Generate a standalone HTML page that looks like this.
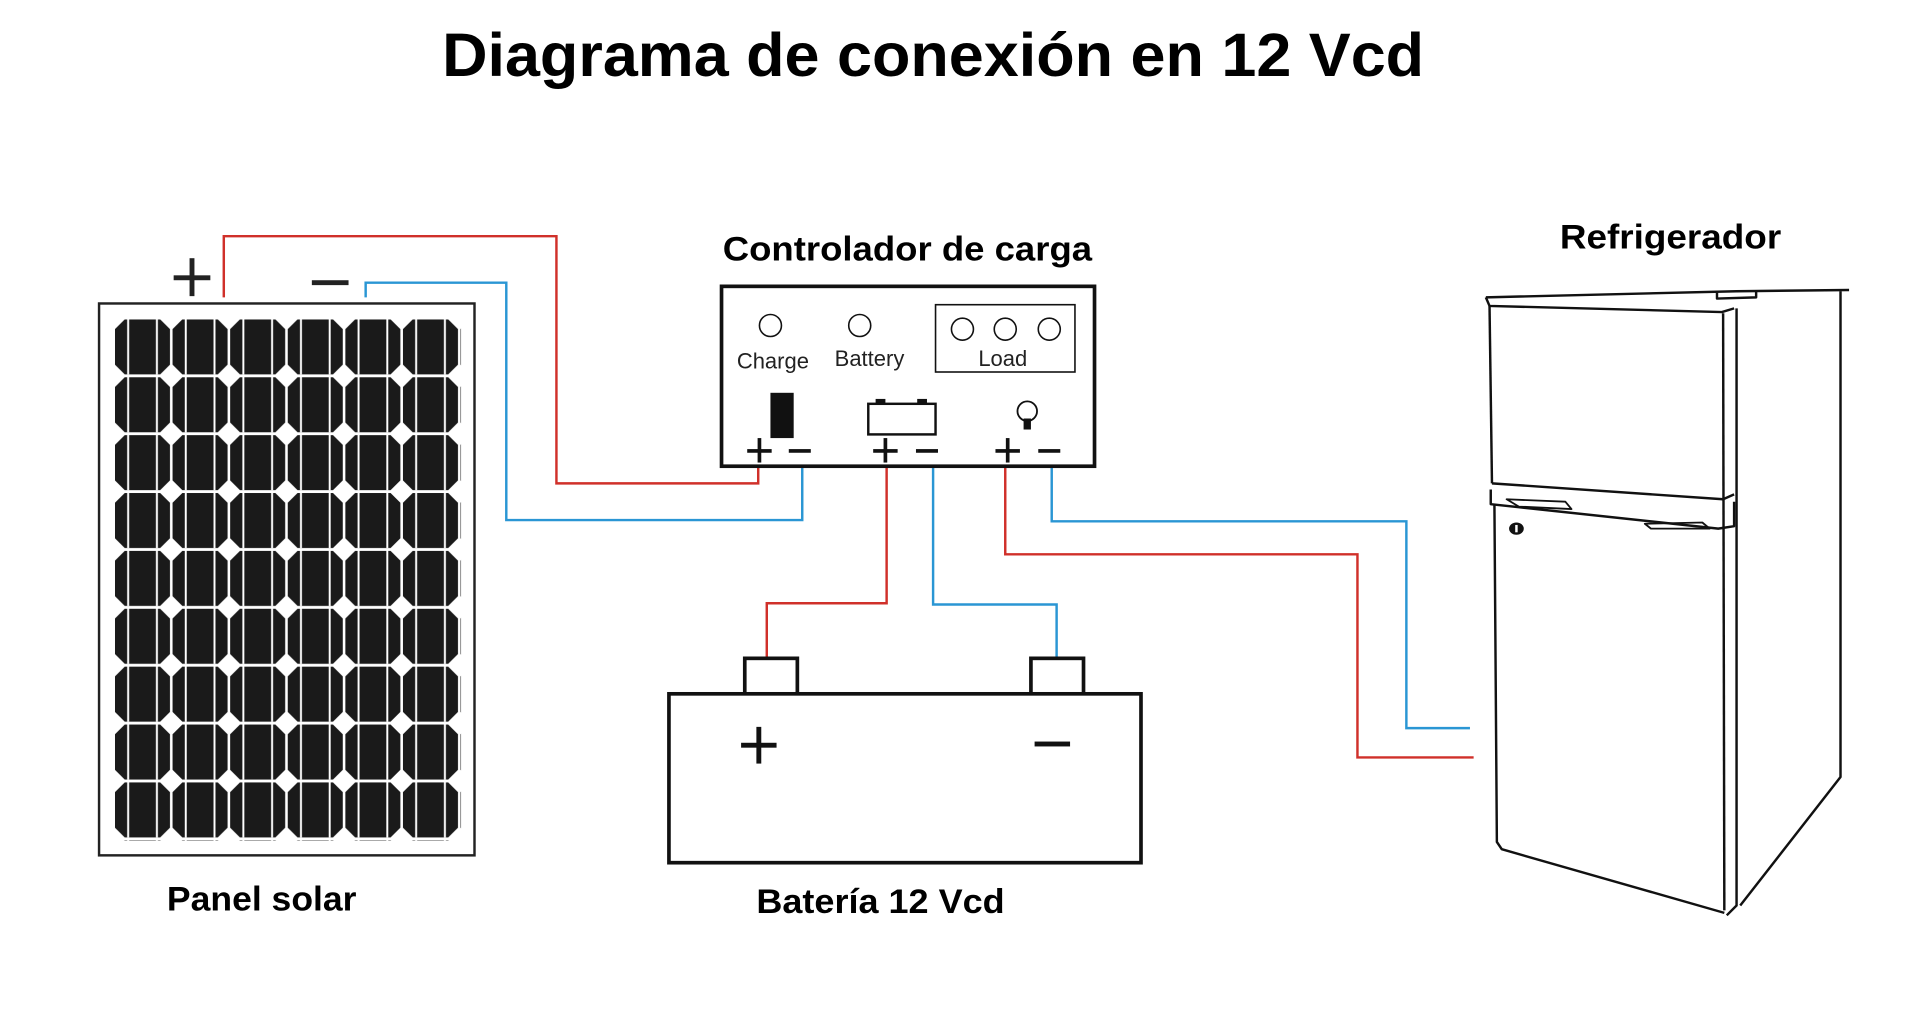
<!DOCTYPE html>
<html><head><meta charset="utf-8"><style>
html,body{margin:0;padding:0;background:#fff;}
svg{display:block;}
text{font-family:"Liberation Sans",sans-serif;}
</style></head><body>
<svg width="1920" height="1023" viewBox="0 0 1570 836" preserveAspectRatio="none" xmlns="http://www.w3.org/2000/svg">
<defs>
<pattern id="cell" x="94" y="261" width="47.1" height="47.3" patternUnits="userSpaceOnUse">
<polygon points="8,0 37,0 45,8 45,37 37,45 8,45 0,37 0,8" fill="#1a1a1a"/>
<rect x="10" y="0" width="1.6" height="45" fill="#fff"/>
<rect x="33.5" y="0" width="1.6" height="45" fill="#fff"/>
</pattern>
</defs>
<rect width="1570" height="836" fill="#fff"/>
<text x="763" y="62" font-size="50" font-weight="bold" text-anchor="middle" textLength="803" lengthAdjust="spacingAndGlyphs">Diagrama de conexión en 12 Vcd</text>

<rect x="81" y="248" width="307" height="451" fill="#fff" stroke="#222" stroke-width="2"/>
<rect x="94" y="261" width="283" height="426" fill="url(#cell)"/>
<rect x="142" y="225" width="30" height="4" fill="#222"/><rect x="155" y="211" width="4" height="31" fill="#222"/>
<rect x="255" y="229" width="30" height="4" fill="#222"/>

<g fill="none" stroke-width="2">
<polyline stroke="#d0302a" points="183,243 183,193 455,193 455,395 620,395 620,382"/>
<polyline stroke="#2a96d4" points="299,243 299,231 414,231 414,425 656,425 656,382"/>
<polyline stroke="#d0302a" points="725,382 725,493 627,493 627,538"/>
<polyline stroke="#2a96d4" points="763,382 763,494 864,494 864,538"/>
<polyline stroke="#d0302a" points="822,382 822,453 1110,453 1110,619 1205,619"/>
<polyline stroke="#2a96d4" points="860,382 860,426 1150,426 1150,595 1202,595"/>
</g>

<text x="742" y="213" font-size="28" font-weight="bold" text-anchor="middle" textLength="302" lengthAdjust="spacingAndGlyphs">Controlador de carga</text>
<rect x="590" y="234" width="305" height="147" fill="#fff" stroke="#111" stroke-width="3"/>
<g fill="none" stroke="#111" stroke-width="1.3">
<circle cx="630" cy="266" r="9"/><circle cx="703" cy="266" r="9"/>
<rect x="765" y="249" width="114" height="55"/>
<circle cx="787" cy="269" r="9"/><circle cx="822" cy="269" r="9"/><circle cx="858" cy="269" r="9"/>
</g>
<text x="632" y="301" font-size="18" text-anchor="middle" fill="#222">Charge</text>
<text x="711" y="299" font-size="18" text-anchor="middle" fill="#222">Battery</text>
<text x="820" y="299" font-size="18" text-anchor="middle" fill="#222">Load</text>
<rect x="630" y="321" width="19" height="37" fill="#111"/>
<rect x="710" y="330" width="55" height="25" fill="none" stroke="#111" stroke-width="2"/>
<rect x="716" y="326" width="8" height="4" fill="#111"/><rect x="750" y="326" width="8" height="4" fill="#111"/>
<circle cx="840" cy="336" r="8" fill="none" stroke="#111" stroke-width="1.5"/>
<rect x="837" y="342" width="6" height="9" fill="#111"/>
<g fill="#111">
<rect x="611" y="367" width="20" height="3"/><rect x="619.5" y="358" width="3" height="20"/>
<rect x="645" y="367" width="18" height="3"/>
<rect x="714" y="367" width="20" height="3"/><rect x="722.5" y="358" width="3" height="20"/>
<rect x="749" y="367" width="18" height="3"/>
<rect x="814" y="367" width="20" height="3"/><rect x="822.5" y="358" width="3" height="20"/>
<rect x="849" y="367" width="18" height="3"/>
</g>

<rect x="609" y="538" width="43" height="29" fill="#fff" stroke="#111" stroke-width="3"/>
<rect x="843" y="538" width="43" height="29" fill="#fff" stroke="#111" stroke-width="3"/>
<rect x="547" y="567" width="386" height="138" fill="#fff" stroke="#111" stroke-width="3"/>
<rect x="606" y="607" width="29" height="4" fill="#111"/><rect x="618.5" y="594" width="4" height="30" fill="#111"/>
<rect x="846" y="606" width="29" height="4" fill="#111"/>

<text x="214" y="744" font-size="28" font-weight="bold" text-anchor="middle" textLength="155" lengthAdjust="spacingAndGlyphs">Panel solar</text>
<text x="720" y="746" font-size="28" font-weight="bold" text-anchor="middle" textLength="203" lengthAdjust="spacingAndGlyphs">Batería 12 Vcd</text>
<text x="1366" y="203" font-size="28" font-weight="bold" text-anchor="middle" textLength="181" lengthAdjust="spacingAndGlyphs">Refrigerador</text>

<g fill="none" stroke="#111" stroke-width="2" stroke-linejoin="round">
<path d="M1215,243 L1420,238 L1512,237"/>
<path d="M1215,243 L1218,250 L1408,255 L1418,252"/>
<path d="M1404,238 L1404,244 L1436,243 L1436,238"/>
<path d="M1505,238 L1505,635 L1423,740"/>
<path d="M1420,252 L1420,740 L1412,748"/>
<path d="M1409,256 L1410,744"/>
<path d="M1218,250 L1220,395"/>
<path d="M1220,395 L1409,408 L1418,404"/>
<path d="M1219,400 L1219,412 L1405,432 L1418,430 L1418,410"/>
<path d="M1222,412 L1224,688 L1228,694 L1410,746"/>
<path d="M1232,408 L1280,410 L1285,416 L1242,414 Z" stroke-width="1.5"/>
<path d="M1345,428 L1392,427 L1398,432 L1350,432 Z" stroke-width="1.5"/>
</g>
<ellipse cx="1240" cy="432" rx="6" ry="5" fill="#111"/>
<rect x="1239" y="429" width="2" height="6" fill="#fff"/>
</svg>
</body></html>
